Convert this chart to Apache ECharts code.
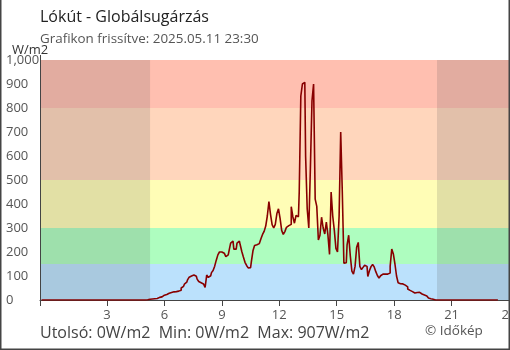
<!DOCTYPE html>
<html>
<head>
<meta charset="utf-8">
<title>Lókút - Globálsugárzás</title>
<script src="https://cdn.jsdelivr.net/npm/echarts@6/dist/echarts.min.js"></script>
<style>
  html, body { margin: 0; padding: 0; background: #fff; }
  #chart { width: 510px; height: 350px; }
</style>
</head>
<body>
<div id="chart"></div>
<script>
// Global radiation (W/m2), 5-minute samples starting at 05:00
const firstSampleHour = 5;
const sampleMinutes = 5;
const radiation = [
  0, 1, 2, 3, 4, 4, 5, 6, 8, 11,
  13, 17, 20, 23, 26, 28, 31, 33, 34, 35,
  35, 37, 41, 50, 57, 66, 74, 84, 95, 100,
  104, 107, 99, 87, 77, 72, 67, 62, 52, 104,
  94, 101, 114, 123, 141, 166, 188, 200, 200, 195,
  191, 181, 188, 205, 237, 245, 212, 212, 237, 245,
  230, 202, 179, 157, 144, 134, 135, 160, 205, 227,
  230, 235, 242, 255, 273, 286, 308, 350, 410, 357,
  314, 300, 315, 360, 380, 340, 290, 273, 285, 303,
  310, 315, 389, 347, 320, 352, 347, 450, 850, 900,
  907, 600, 380, 300, 550, 830, 900, 420, 390, 250,
  270, 345, 300, 275, 325, 270, 190, 450, 350, 290,
  215, 200, 350, 700, 450, 153, 155, 230, 270, 185,
  120, 108, 140, 220, 240, 140, 127, 136, 145, 140,
  98, 122, 139, 148, 138, 118, 102, 91, 101, 108,
  108, 108, 108, 112, 140, 212, 192, 150, 100, 72,
  68, 67, 66, 62, 55, 46, 40, 35, 31, 29,
  31, 34, 32, 25, 23, 21, 17, 12, 8, 5,
  3, 1, 0
];
// night-time readings at the ends of the 24-hour window (hours, -0.42 = 23:35 the day before)
const nightHours = [-0.42, 23.42];
const nightValues = [0, 0];

// x axis
const hourMin = -0.5;
const hourMax = 24;
const hourTicks = [3, 6, 9, 12, 15, 18, 21, 24];

// radiation levels shading the background
const levelEdges = [0, 150, 300, 500, 800, 1000];
const levelColors = ['#bbe1fc', '#aefdbf', '#fffdb6', '#ffd6bc', '#ffbfb0'];

// darkness: before sunrise and after sunset
const sunrise = 5.25;
const sunset = 20.24;

// texts
const titleText = 'Lókút - Globálsugárzás';
const subtitleText = 'Grafikon frissítve: 2025.05.11 23:30';
const unitText = 'W/m2';
const statsText = 'Utolsó: 0W/m2  Min: 0W/m2  Max: 907W/m2';
const creditText = '© Időkép';

const FONT = '"Open Sans", "Noto Sans", sans-serif';

const seriesData = [[nightHours[0], nightValues[0]]];
radiation.forEach((v, i) => {
  seriesData.push([firstSampleHour + i * sampleMinutes / 60, v]);
});
seriesData.push([nightHours[1], nightValues[1]]);

const bandAreas = levelColors.map((c, i) => [
  { yAxis: levelEdges[i], itemStyle: { color: c } },
  { yAxis: levelEdges[i + 1] }
]);
const darkAreas = [
  [{ xAxis: hourMin }, { xAxis: sunrise }],
  [{ xAxis: sunset }, { xAxis: hourMax }]
];

const axisGray = '#444';
const chart = echarts.init(document.getElementById('chart'), null, { renderer: 'canvas' });
chart.setOption({
  animation: false,
  backgroundColor: '#fff',
  grid: { left: 40, right: 1, top: 60, bottom: 50, containLabel: false, outerBoundsMode: 'none' },
  xAxis: [
    {
      type: 'value', min: hourMin, max: hourMax,
      axisLine: { show: true, onZero: false, lineStyle: { color: axisGray, width: 1 } },
      axisTick: { show: true, length: 6, customValues: hourTicks, lineStyle: { color: axisGray } },
      axisLabel: { customValues: hourTicks, color: '#555', fontSize: 13, fontFamily: FONT, margin: 9 },
      splitLine: { show: false }
    },
    {
      type: 'value', min: hourMin, max: hourMax, position: 'bottom',
      axisLine: { show: false, onZero: false },
      axisTick: { show: true, inside: true, length: 6, customValues: hourTicks, lineStyle: { color: axisGray } },
      axisLabel: { show: false },
      splitLine: { show: false }
    }
  ],
  yAxis: [
    {
      type: 'value', min: 0, max: 1000, interval: 100,
      axisLine: { show: false },
      axisTick: { show: true, length: 7, lineStyle: { color: axisGray } },
      axisLabel: { color: '#555', fontSize: 13, fontFamily: FONT, align: 'left', margin: 34 },
      splitLine: { show: false }
    },
    {
      type: 'value', min: 0, max: 1000, interval: 100, position: 'left',
      axisLine: { show: false },
      axisTick: { show: true, inside: true, length: 7, lineStyle: { color: axisGray } },
      axisLabel: { show: false },
      splitLine: { show: false }
    }
  ],
  series: [
    {
      type: 'line', data: [], silent: true, z: 1,
      markArea: { silent: true, data: bandAreas }
    },
    {
      type: 'line', data: [], silent: true, z: 2,
      markArea: { silent: true, itemStyle: { color: 'rgba(84,84,84,0.17)' }, data: darkAreas }
    },
    {
      type: 'line', data: seriesData, step: 'middle', z: 5,
      showSymbol: false, symbol: 'none',
      lineStyle: { color: '#880000', width: 1.6 }
    }
  ],
  graphic: [
    { type: 'line', z: 100, shape: { x1: 40.5, y1: 55, x2: 40.5, y2: 306 }, style: { stroke: axisGray, lineWidth: 1 } },
    { type: 'text', x: 40, y: 17.5, style: { text: titleText, font: '16px ' + FONT, fill: '#222', verticalAlign: 'middle' } },
    { type: 'text', x: 40, y: 39.5, style: { text: subtitleText, font: '13.4px ' + FONT, fill: '#555', verticalAlign: 'middle' } },
    { type: 'text', x: 12, y: 50.5, style: { text: unitText, font: '13px ' + FONT, fill: '#333', verticalAlign: 'middle' } },
    { type: 'text', x: 40, y: 333, style: { text: statsText, font: '16px ' + FONT, fill: '#444', verticalAlign: 'middle' } },
    { type: 'text', x: 425, y: 331, style: { text: creditText, font: '13.5px ' + FONT, fill: '#555', verticalAlign: 'middle' } },
    { type: 'rect', z: 100, shape: { x: 0, y: -3, width: 510, height: 353 }, style: { fill: 'none', stroke: '#444', lineWidth: 3 } }
  ]
});
</script>
</body>
</html>
